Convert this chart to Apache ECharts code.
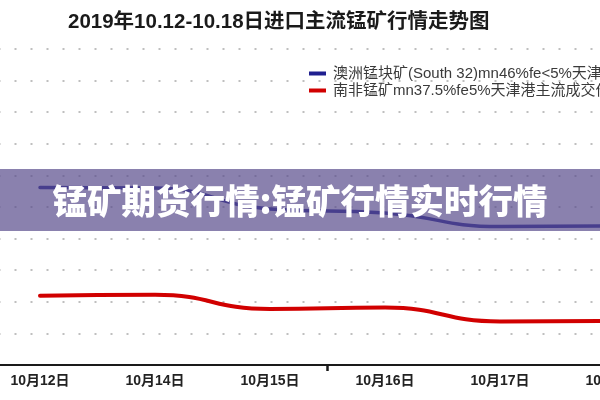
<!DOCTYPE html>
<html>
<head>
<meta charset="utf-8">
<script src="https://cdn.jsdelivr.net/npm/echarts@6/dist/echarts.min.js"></script>
<style>html,body{margin:0;padding:0;background:#fff;}#c{width:600px;height:400px;}</style>
</head>
<body>
<div id="c"></div>
<script>
const titleText = '2019年10.12-10.18日进口主流锰矿行情走势图';
const bannerText = '锰矿期货行情:锰矿行情实时行情';
const categories = ['10月12日', '10月14日', '10月15日', '10月16日', '10月17日', '10月18日'];
const seriesNames = ['澳洲锰块矿(South 32)mn46%fe<5%天津港主流成交价', '南非锰矿mn37.5%fe5%天津港主流成交价'];
const australiaValues = [35.62, 35.60, 34.94, 34.81, 34.38, 34.40];
const southAfricaValues = [32.19, 32.22, 31.77, 31.82, 31.38, 31.39];
const tickBoundary = [3];
const yMin = 30, yMax = 40, yInterval = 1;

const chart = echarts.init(document.getElementById('c'), null, {renderer: 'canvas'});
chart.setOption({
  backgroundColor: '#ffffff',
  animation: false,
  title: {
    text: titleText,
    left: 63, top: 7,
    textStyle: {fontFamily: 'Liberation Sans, Noto Sans CJK SC', fontSize: 20.5, fontWeight: 'bold', color: '#1a1a1a'}
  },
  legend: {
    orient: 'vertical',
    left: 304, top: 61,
    itemWidth: 17, itemHeight: 4, itemGap: 2,
    icon: 'rect',
    data: seriesNames,
    textStyle: {fontFamily: 'Liberation Sans, Noto Sans CJK SC', fontSize: 15, color: '#3a3a3a', padding: [0, 0, 0, 2]}
  },
  grid: {left: -17.5, right: -72.5, top: 49, bottom: 35, outerBoundsMode: 'none', containLabel: false},
  xAxis: [{
    type: 'category',
    data: categories,
    boundaryGap: true,
    axisLine: {lineStyle: {color: '#1a1a1a', width: 2}},
    axisTick: {show: false},
    axisLabel: {interval: 0, margin: 9, fontFamily: 'Liberation Sans, Noto Sans CJK SC', fontSize: 14, fontWeight: 'bold', color: '#222'}
  }, {
    type: 'value',
    position: 'bottom',
    min: 0, max: categories.length, interval: 1,
    axisLine: {show: false},
    splitLine: {show: false},
    axisLabel: {show: false},
    axisTick: {show: true, customValues: tickBoundary, length: 6, lineStyle: {color: '#1a1a1a', width: 2.5}}
  }],
  yAxis: {
    type: 'value',
    min: yMin, max: yMax, interval: yInterval,
    axisLine: {show: false}, axisTick: {show: false}, axisLabel: {show: false},
    splitLine: {lineStyle: {type: [2, 14], color: '#aaaaaa', width: 1.5}}
  },
  series: [
    {name: seriesNames[0], type: 'line', data: australiaValues, smooth: 0.5, symbol: 'none',
     lineStyle: {color: '#1f1f8f', width: 3.5, cap: 'round'}, itemStyle: {color: '#1f1f8f'}},
    {name: seriesNames[1], type: 'line', data: southAfricaValues, smooth: 0.5, symbol: 'none',
     lineStyle: {color: '#d10000', width: 4, cap: 'round'}, itemStyle: {color: '#d10000'}}
  ],
  graphic: [
    {type: 'rect', z: 100, shape: {x: 0, y: 169, width: 600, height: 62}, style: {fill: 'rgba(88,76,140,0.7)'}},
    {type: 'text', z: 101, x: 300, y: 201, style: {text: bannerText, fill: '#ffffff', font: '900 34.5px "Noto Sans CJK SC"', textAlign: 'center', textVerticalAlign: 'middle'}}
  ]
});
</script>
</body>
</html>
